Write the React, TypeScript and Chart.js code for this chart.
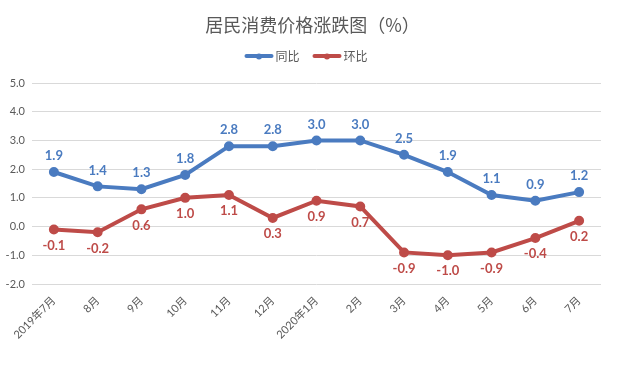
import React, { useEffect, useRef } from "react";
import { Chart, registerables } from "chart.js";

Chart.register(...registerables);

const categories = ["2019年7月", "8月", "9月", "10月", "11月", "12月", "2020年1月", "2月", "3月", "4月", "5月", "6月", "7月"];
const yoy = [1.9, 1.4, 1.3, 1.8, 2.8, 2.8, 3.0, 3.0, 2.5, 1.9, 1.1, 0.9, 1.2];
const mom = [-0.1, -0.2, 0.6, 1.0, 1.1, 0.3, 0.9, 0.7, -0.9, -1.0, -0.9, -0.4, 0.2];
const seriesNames = ["同比", "环比"];
const titleText = "居民消费价格涨跌图（%）";

const BLUE = "#4a7bc0";
const RED = "#be4b48";
const GRAY = "#595959";
const FONT = "Lato, 'Noto Sans CJK SC', sans-serif";
const CJK = "'Noto Sans CJK SC', sans-serif";

const dataLabels = {
  id: "dataLabels",
  afterDatasetsDraw(chart: any) {
    const ctx = chart.ctx;
    ctx.save();
    ctx.font = "bold 13px " + FONT;
    ctx.textAlign = "center";
    ctx.textBaseline = "middle";
    chart.data.datasets.forEach((ds: any, i: number) => {
      const meta = chart.getDatasetMeta(i);
      ctx.fillStyle = ds.borderColor;
      meta.data.forEach((pt: any, j: number) => {
        const v = ds.data[j] as number;
        const off = i === 0 ? -16 : 16;
        ctx.fillText(v.toFixed(1), pt.x, pt.y + off);
      });
    });
    ctx.restore();
  },
};

const header = {
  id: "header",
  afterDraw(chart: any) {
    const ctx = chart.ctx;
    ctx.save();
    ctx.fillStyle = GRAY;
    ctx.textAlign = "center";
    ctx.textBaseline = "middle";
    ctx.font = "18px " + CJK;
    ctx.fillText(titleText, 312.5, 25);

    // legend
    ctx.font = "12px " + CJK;
    const lineW = 29;
    const gap = 2;
    const itemGap = 13;
    const items = chart.data.datasets.map((ds: any) => ({
      label: ds.label,
      color: ds.borderColor,
      tw: ctx.measureText(ds.label).width,
    }));
    let total = 0;
    items.forEach((it: any, i: number) => {
      total += lineW + gap + it.tw + (i < items.length - 1 ? itemGap : 0);
    });
    let x = 306 - total / 2;
    const y = 56;
    items.forEach((it: any) => {
      ctx.strokeStyle = it.color;
      ctx.lineWidth = 4;
      ctx.lineCap = "round";
      ctx.beginPath();
      ctx.moveTo(x + 2, y);
      ctx.lineTo(x + lineW - 2, y);
      ctx.stroke();
      ctx.fillStyle = it.color;
      ctx.beginPath();
      ctx.arc(x + lineW / 2, y + 0.5, 3, 0, Math.PI * 2);
      ctx.fill();
      ctx.fillStyle = GRAY;
      ctx.textAlign = "left";
      ctx.fillText(it.label, x + lineW + gap, y);
      x += lineW + gap + it.tw + itemGap;
    });
    ctx.restore();
  },
};

export default function App() {
  const ref = useRef<HTMLCanvasElement>(null);
  useEffect(() => {
    document.body.style.margin = "0";
    const chart = new Chart(ref.current!, {
      type: "line",
      data: {
        labels: categories,
        datasets: [
          {
            label: seriesNames[0],
            data: yoy,
            borderColor: BLUE,
            backgroundColor: BLUE,
            borderWidth: 4,
            pointRadius: 3,
            pointHoverRadius: 3,
            pointStyle: "circle",
          },
          {
            label: seriesNames[1],
            data: mom,
            borderColor: RED,
            backgroundColor: RED,
            borderWidth: 4,
            pointRadius: 3,
            pointHoverRadius: 3,
            pointStyle: "circle",
          },
        ],
      },
      options: {
        animation: false,
        responsive: false,
        layout: { padding: { left: 0, right: 39, top: 83, bottom: 0 } },
        plugins: {
          title: { display: false },
          legend: { display: false },
          tooltip: { enabled: false },
        },
        scales: {
          x: {
            offset: true,
            grid: { display: false, drawTicks: false },
            border: { display: false },
            ticks: {
              color: GRAY,
              font: { family: FONT, size: 11 },
              maxRotation: 45,
              minRotation: 45,
              padding: 10,
              autoSkip: false,
            },
            afterFit: (s: any) => {
              s.height = 83;
            },
          },
          y: {
            min: -2,
            max: 5,
            grid: { color: "#d9d9d9", lineWidth: 1, drawTicks: false },
            border: { display: false },
            ticks: {
              stepSize: 1,
              color: GRAY,
              font: { family: FONT, size: 11 },
              padding: 7,
              callback: (v: any) => Number(v).toFixed(1),
            },
            afterFit: (s: any) => {
              s.width = 32;
            },
          },
        },
      },
      plugins: [dataLabels, header],
    });
    return () => chart.destroy();
  }, []);
  return (
    <div style={{ width: 640, height: 367, position: "relative" }}>
      <canvas ref={ref} width={640} height={367} style={{ display: "block" }} />
    </div>
  );
}
